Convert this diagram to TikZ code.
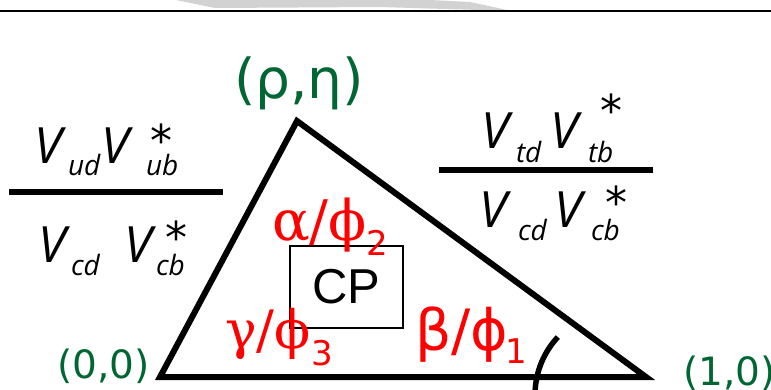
\documentclass[tikz,border=0pt]{standalone}
\usepackage{fontspec}
\usetikzlibrary{calc}
\setmainfont{DejaVu Sans}
\newfontfamily\vfont{Open Sans}
\newfontfamily\grk{DejaVu Serif}
\newfontfamily\cpfont{Liberation Sans}
\newcommand{\fsz}[1]{\fontsize{#1}{#1}\selectfont}
\definecolor{cgreen}{RGB}{0,102,51}
\definecolor{cred}{RGB}{255,0,0}
\tikzset{
  lbl/.style={inner sep=0pt, outer sep=0pt, anchor=base west},
  bigV/.style={lbl, font=\vfont\itshape\fsz{50}},
  subV/.style={lbl, font=\vfont\itshape\fsz{28}},
  starV/.style={inner sep=0pt, outer sep=0pt, anchor=north west, font=\fsz{44}},
  coordlbl/.style={lbl, text=cgreen, font=\fsz{39}},
  anglbl/.style={lbl, text=cred, font=\grk\fsz{56}},
  angsub/.style={lbl, text=cred, font=\fsz{34}},
  tri/.style={line width=6pt, line join=miter},
  bar/.style={line width=5.5pt},
}
\begin{document}
\begin{tikzpicture}[x=1pt,y=-1pt]
\useasboundingbox (0,0) rectangle (771,389);
% top shadow and rule
\fill[gray!35] (176,0) -- (215,8) -- (380,7) -- (512,11) -- (470,2) -- (430,0) -- cycle;
\draw[line width=2pt] (0,11) -- (771,11);
% triangle
\coordinate (A) at (160,377);
\coordinate (B) at (297,121);
\coordinate (C) at (646,377);
\draw[tri] (A) -- (B) -- (C) -- cycle;
% beta arc
\coordinate (arcS) at ($(620,395)+(182:85)$);
\draw[line width=5.5pt] (arcS) arc[start angle=182, end angle=223, radius=85];
% vertex labels
\node[lbl, text=cgreen, font=\fsz{55}] (rhoeta) at (234,98) {(ρ,η)};
\node[coordlbl] (origin) at (57,378) {(0,0)};
\node[coordlbl] (onezero) at (683,385) {(1,0)};
% CP box
\node[draw, line width=1.3pt, minimum width=113pt, minimum height=82pt, inner sep=0pt, font=\cpfont\fsz{49}] (cp) at (346.5,287) {CP};
% angle labels
\node[anglbl] (alpha) at (272,240) {α/ϕ};
\node[angsub] (alphas) at (366,255) {2};
\node[anglbl, font=\grk\fsz{53}] (gamma) at (225,348) {γ/ϕ};
\node[angsub] (gammas) at (311,365) {3};
\node[lbl, text=cred, font=\fsz{57}] (beta) at (415,350) {β/ϕ};
\node[angsub] (betas) at (505,363) {1};
% left fraction
\node[bigV] (l1) at (34,163) {V};
\node[subV] (l1s) at (68,175) {ud};
\node[bigV] (l2) at (101,163) {V};
\node[subV] (l2s) at (146,175) {ub};
\node[starV] (l2t) at (150,124) {*};
\draw[bar] (9,192) -- (223,192);
\node[bigV] (l3) at (38,262) {V};
\node[subV] (l3s) at (71,275) {cd};
\node[bigV] (l4) at (124,262) {V};
\node[subV] (l4s) at (156,275) {cb};
\node[starV] (l4t) at (165,221) {*};
% right fraction
\node[bigV] (r1) at (481,148) {V};
\node[subV] (r1s) at (516,162) {td};
\node[bigV] (r2) at (550,148) {V};
\node[subV] (r2s) at (588,162) {tb};
\node[starV] (r2t) at (600,94) {*};
\draw[bar] (439,170) -- (653,170);
\node[bigV] (r3) at (479,227) {V};
\node[subV] (r3s) at (518,240) {cd};
\node[bigV] (r4) at (554,227) {V};
\node[subV] (r4s) at (591,240) {cb};
\node[starV] (r4t) at (605,186) {*};
\end{tikzpicture}
\end{document}
